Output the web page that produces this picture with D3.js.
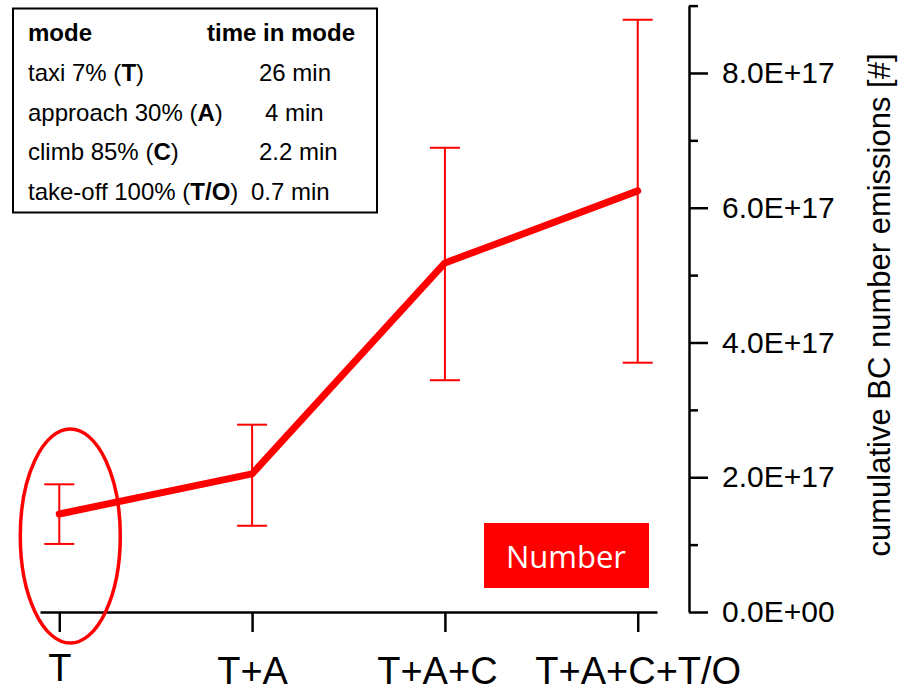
<!DOCTYPE html>
<html>
<head>
<meta charset="utf-8">
<script src="https://cdn.jsdelivr.net/npm/d3@7"></script>
<style>
  html, body { margin: 0; padding: 0; background: #fff; }
  svg { display: block; font-family: "Liberation Sans", Arial, sans-serif; }
</style>
</head>
<body>
<svg id="chart" width="912" height="693"></svg>
<script>
// cumulative emission stages
const categories = ["T", "T+A", "T+A+C", "T+A+C+T/O"];
// cumulative BC number emissions (mean) and error-bar limits
const values = [1.455e17, 2.05e17, 5.18e17, 6.25e17];
const upper  = [1.895e17, 2.78e17, 6.89e17, 8.79e17];
const lower  = [1.01e17, 1.28e17, 3.44e17, 3.70e17];

// y-axis ticks
const majorTicks = [0, 2e17, 4e17, 6e17, 8e17];
const minorTicks = [1e17, 3e17, 5e17, 7e17, 9e17];
const yMax = 9e17;

// legend table: mode, bold abbreviation, time in mode
const modeNames  = ["taxi 7%", "approach 30%", "climb 85%", "take-off 100%"];
const modeCodes  = ["T", "A", "C", "T/O"];
const modeTimes  = ["26 min", "4 min", "2.2 min", "0.7 min"];

const seriesLabel = "Number";
const yTitle = "cumulative BC number emissions [#]";

const red = "#ff0000";
const svg = d3.select("#chart");

const x = d3.scalePoint().domain(categories).range([40, 657]).padding(0.1);
const y = d3.scaleLinear().domain([0, yMax]).range([612, 5.6]);

// E-notation like "8.0E+17"
function sci(v) {
  if (v === 0) return "0.0E+00";
  const [m, e] = v.toExponential(1).split("e");
  const sign = e[0];
  const digits = e.slice(1).padStart(2, "0");
  return m + "E" + sign + digits;
}

// small hand placement of the category labels
const labelShiftX = { "T+A+C": -8 };
const labelShiftY = { "T": -3 };
// hand placement of the time column in the legend
const timeColumnX = [259, 265, 259, 251];

// x axis
const gx = svg.append("g")
  .attr("transform", `translate(0,${y(0)})`)
  .call(d3.axisBottom(x).tickSize(20).tickSizeOuter(0).tickPadding(25));
gx.select(".domain").attr("stroke", "#000").attr("stroke-width", 2.5);
gx.selectAll(".tick line").attr("stroke", "#000").attr("stroke-width", 2.5);
gx.selectAll(".tick text")
  .attr("font-family", "'Liberation Sans', Arial, sans-serif")
  .attr("font-size", 38)
  .attr("fill", "#000")
  .attr("dx", d => labelShiftX[d] || 0)
  .attr("transform", d => `translate(0,${labelShiftY[d] || 0})`);

// y axis on the right (minor ticks then major ticks)
const axX = 689;
const gyMinor = svg.append("g")
  .attr("transform", `translate(${axX},0)`)
  .call(d3.axisRight(y).tickValues(minorTicks).tickSize(9).tickSizeOuter(0).tickFormat(""));
gyMinor.select(".domain").remove();
gyMinor.selectAll(".tick line").attr("stroke", "#000").attr("stroke-width", 2.5);

const gy = svg.append("g")
  .attr("transform", `translate(${axX},0)`)
  .call(d3.axisRight(y).tickValues(majorTicks).tickSize(19).tickSizeOuter(0)
    .tickPadding(14).tickFormat(sci));
gy.select(".domain").attr("stroke", "#000").attr("stroke-width", 2.5);
gy.selectAll(".tick line").attr("stroke", "#000").attr("stroke-width", 2.5);
gy.selectAll(".tick text")
  .attr("font-family", "'Liberation Sans', Arial, sans-serif")
  .attr("font-size", 30)
  .attr("fill", "#000");

// y axis title
svg.append("text")
  .attr("transform", `translate(890,305) rotate(-90)`)
  .attr("text-anchor", "middle")
  .attr("font-size", 31)
  .attr("fill", "#000")
  .text(yTitle);

// error bars
const capHalf = 15;
const eb = svg.append("g").attr("stroke", red).attr("stroke-width", 2);
categories.forEach((c, i) => {
  const cx = x(c);
  eb.append("line").attr("x1", cx).attr("x2", cx).attr("y1", y(upper[i])).attr("y2", y(lower[i]));
  eb.append("line").attr("x1", cx - capHalf).attr("x2", cx + capHalf).attr("y1", y(upper[i])).attr("y2", y(upper[i]));
  eb.append("line").attr("x1", cx - capHalf).attr("x2", cx + capHalf).attr("y1", y(lower[i])).attr("y2", y(lower[i]));
});

// main line
const line = d3.line().x((d, i) => x(categories[i])).y(d => y(d));
svg.append("path")
  .datum(values)
  .attr("d", line)
  .attr("fill", "none")
  .attr("stroke", red)
  .attr("stroke-width", 7)
  .attr("stroke-linejoin", "round")
  .attr("stroke-linecap", "round");

// highlight ring around the taxi stage
svg.append("ellipse")
  .attr("cx", x(categories[0]) + 11)
  .attr("cy", 536)
  .attr("rx", 50)
  .attr("ry", 107)
  .attr("fill", "none")
  .attr("stroke", red)
  .attr("stroke-width", 3.5);

// series tag
svg.append("rect")
  .attr("x", 484).attr("y", 523).attr("width", 165).attr("height", 65)
  .attr("fill", red);
svg.append("text")
  .attr("x", 566).attr("y", 568)
  .attr("text-anchor", "middle")
  .attr("font-family", "'Open Sans', 'Noto Sans', sans-serif")
  .attr("font-size", 31)
  .attr("fill", "#fff")
  .text(seriesLabel);

// legend table
const lg = svg.append("g");
lg.append("rect")
  .attr("x", 13).attr("y", 8.5).attr("width", 364).attr("height", 204)
  .attr("fill", "#fff").attr("stroke", "#000").attr("stroke-width", 2);
lg.append("text").attr("x", 28).attr("y", 41)
  .attr("font-size", 24).attr("font-weight", "bold").text("mode");
lg.append("text").attr("x", 207).attr("y", 41)
  .attr("font-size", 24).attr("font-weight", "bold").text("time in mode");
modeNames.forEach((name, i) => {
  const by = 81 + i * 39.5;
  const t = lg.append("text").attr("x", 28).attr("y", by).attr("font-size", 24);
  t.append("tspan").text(name + " (");
  t.append("tspan").attr("font-weight", "bold").text(modeCodes[i]);
  t.append("tspan").text(")");
  lg.append("text").attr("x", timeColumnX[i]).attr("y", by).attr("font-size", 24).text(modeTimes[i]);
});
</script>
</body>
</html>
